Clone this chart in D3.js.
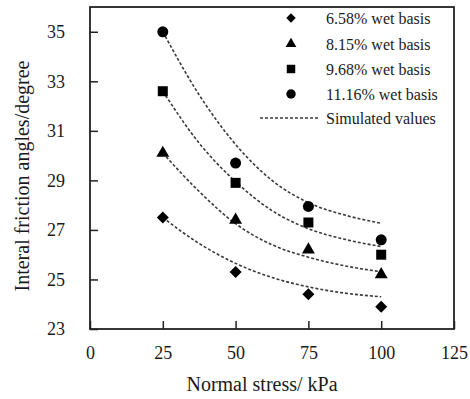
<!DOCTYPE html>
<html lang="en">
  <head>
    <meta charset="UTF-8" />
    <title>Interal friction angles</title>
    <style>
      body {
        margin: 0;
        background: #fff;
      }
      text {
        font-family: "Liberation Serif", "Times New Roman", serif;
        fill: #1a1a1a;
      }
      .sim {
        fill: none;
        stroke: #3a3a3a;
        stroke-width: 1.6px;
        stroke-dasharray: 3, 2;
      }
    </style>
  </head>
  <body>
    <svg></svg>
    <script src="https://cdnjs.cloudflare.com/ajax/libs/d3/7.8.5/d3.min.js"></script>
    <script>
      // measured values
      const stress = [25, 50, 75, 100];
      const wet658 = [27.5, 25.3, 24.4, 23.9];
      const wet815 = [30.1, 27.4, 26.2, 25.2];
      const wet968 = [32.6, 28.9, 27.3, 26.0];
      const wet1116 = [35.0, 29.7, 27.95, 26.6];

      // simulated curves
      const simStress = [25, 37.5, 50, 62.5, 75, 87.5, 100];
      const sim658 = [27.5, 26.45, 25.65, 25.08, 24.7, 24.45, 24.3];
      const sim815 = [30.1, 28.55, 27.25, 26.4, 25.9, 25.55, 25.31];
      const sim968 = [32.6, 30.5, 28.95, 27.78, 27.05, 26.62, 26.33];
      const sim1116 = [35.0, 32.45, 30.45, 29.0, 28.1, 27.6, 27.27];

      const seriesNames = [
        "6.58% wet basis",
        "8.15% wet basis",
        "9.68% wet basis",
        "11.16% wet basis",
      ];
      const simName = "Simulated values";
      const xTicks = [0, 25, 50, 75, 100, 125];
      const yTicks = [23, 25, 27, 29, 31, 33, 35];

      const width = 470;
      const height = 399;
      const margin = { top: 7, right: 16, bottom: 70, left: 90 };
      const w = width - margin.left - margin.right;
      const h = height - margin.top - margin.bottom;

      const svg = d3.select("svg").attr("width", width).attr("height", height);
      const plot = svg
        .append("g")
        .attr("transform", "translate(" + [margin.left, margin.top] + ")");

      const x = d3.scaleLinear().domain([0, 125]).range([0, w]);
      const y = d3.scaleLinear().domain([23, 36]).range([h, 0]);

      const xAxis = d3
        .axisBottom(x)
        .tickValues(xTicks)
        .tickSizeInner(-8)
        .tickSizeOuter(0)
        .tickPadding(17);
      const yAxis = d3
        .axisLeft(y)
        .tickValues(yTicks)
        .tickSizeInner(-8)
        .tickSizeOuter(0)
        .tickPadding(25);

      const gx = plot
        .append("g")
        .attr("transform", "translate(" + [0, h] + ")")
        .call(xAxis);
      const gy = plot.append("g").call(yAxis);
      [gx, gy].forEach(function (g) {
        g.select(".domain").remove();
        g.selectAll("line").attr("stroke", "#222").attr("stroke-width", 1.5);
        g.selectAll("text")
          .attr("font-size", 18)
          .attr("font-family", "Liberation Serif, serif")
          .attr("fill", "#1a1a1a");
      });

      // frame
      plot
        .append("rect")
        .attr("width", w)
        .attr("height", h)
        .attr("fill", "none")
        .attr("stroke", "#222")
        .attr("stroke-width", 1.8);

      const line = d3
        .line()
        .x(function (d) {
          return x(d[0]);
        })
        .y(function (d) {
          return y(d[1]);
        })
        .curve(d3.curveMonotoneX);

      [sim658, sim815, sim968, sim1116].forEach(function (s) {
        plot
          .append("path")
          .attr("class", "sim")
          .attr("d", line(d3.zip(simStress, s)));
      });

      const symbols = [
        { gen: d3.symbol().type(d3.symbolSquare).size(72), rot: 45 },
        { gen: d3.symbol().type(d3.symbolTriangle).size(72), rot: 0 },
        { gen: d3.symbol().type(d3.symbolSquare).size(100), rot: 0 },
        { gen: d3.symbol().type(d3.symbolCircle).size(95), rot: 0 },
      ];

      [wet658, wet815, wet968, wet1116].forEach(function (vals, i) {
        plot
          .selectAll(null)
          .data(d3.zip(stress, vals))
          .enter()
          .append("path")
          .attr("d", symbols[i].gen())
          .attr("fill", "#000")
          .attr("transform", function (d) {
            return (
              "translate(" +
              [x(d[0]), y(d[1])] +
              ") rotate(" +
              symbols[i].rot +
              ")"
            );
          });
      });

      // legend
      const legend = svg.append("g");
      const rowY = [18, 44, 69, 94, 118];
      const legendSizes = [44, 50, 72, 70];
      seriesNames.forEach(function (name, i) {
        legend
          .append("path")
          .attr(
            "d",
            d3.symbol().type(symbols[i].gen.type()).size(legendSizes[i])()
          )
          .attr("fill", "#000")
          .attr(
            "transform",
            "translate(" + [291, rowY[i]] + ") rotate(" + symbols[i].rot + ")"
          );
        legend
          .append("text")
          .attr("x", 326)
          .attr("y", rowY[i])
          .attr("dy", "0.35em")
          .attr("font-size", 16)
          .text(name);
      });
      legend
        .append("line")
        .attr("class", "sim")
        .attr("x1", 260)
        .attr("x2", 320)
        .attr("y1", rowY[4])
        .attr("y2", rowY[4]);
      legend
        .append("text")
        .attr("x", 326)
        .attr("y", rowY[4])
        .attr("dy", "0.35em")
        .attr("font-size", 16)
        .text(simName);

      // axis titles
      svg
        .append("text")
        .attr("x", 262)
        .attr("y", 391)
        .attr("text-anchor", "middle")
        .attr("font-size", 20)
        .text("Normal stress/ kPa");
      svg
        .append("text")
        .attr("transform", "translate(29,176) rotate(-90)")
        .attr("text-anchor", "middle")
        .attr("font-size", 20)
        .text("Interal friction angles/degree");
    </script>
  </body>
</html>
